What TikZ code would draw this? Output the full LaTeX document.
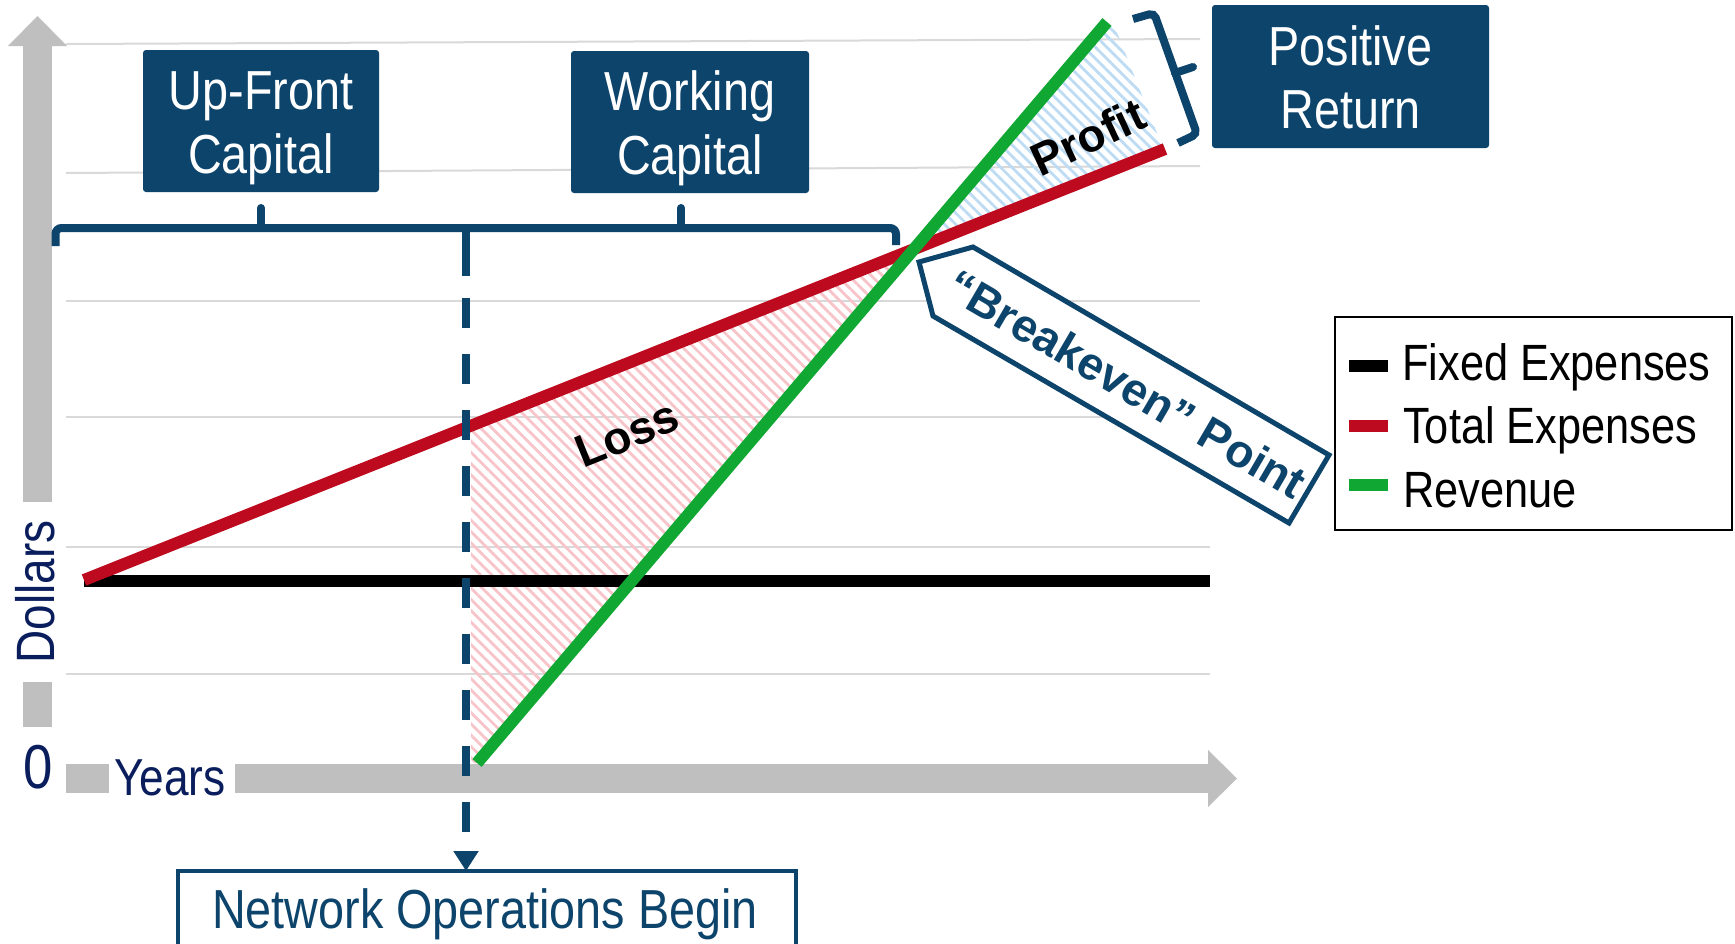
\documentclass[tikz,border=0pt]{standalone}
\usepackage{fontspec}
\setmainfont{Liberation Sans}
\newfontfamily\condfont{Liberation Sans}[FakeStretch=0.85]
\usetikzlibrary{arrows.meta,patterns.meta}
\definecolor{boxblue}{HTML}{0D446B}
\definecolor{navy}{HTML}{0A1E5E}
\definecolor{axisgray}{HTML}{BFBFBF}
\definecolor{gridgray}{HTML}{D9D9D9}
\definecolor{redline}{HTML}{BE0A1E}
\definecolor{greenline}{HTML}{10A832}
\definecolor{pinkhatch}{HTML}{F7C4CA}
\definecolor{bluehatch}{HTML}{BDDCF4}
\begin{document}
\begin{tikzpicture}[x=1pt,y=-1pt,
  bluebox/.style={fill=boxblue, rounded corners=3pt, inner sep=0pt, outer sep=0pt},
  boxtext/.style={text=white, font=\condfont\fontsize{55}{64}\selectfont, anchor=base, inner sep=0pt},
  gridline/.style={draw=gridgray, line width=2pt},
  bar/.style={fill=axisgray},
  brace/.style={draw=boxblue, line width=8pt},
  axislabel/.style={text=navy, inner sep=0pt},
  boldlabel/.style={font=\bfseries\fontsize{46}{54}\selectfont, inner sep=0pt},
  legtext/.style={font=\condfont\fontsize{51}{60}\selectfont, anchor=base west, inner sep=0pt},
  swatch/.style={line width=12pt},
  hatch/.style={pattern={Lines[angle=-45,distance=8pt,line width=2.8pt]}}
]
\useasboundingbox (0,0) rectangle (1735,943);
\clip (0,0) rectangle (1735,943);
\fill[white] (0,0) rectangle (1735,943);

% grid
\draw[gridline] (66,44) -- (1200,39);
\draw[gridline] (66,173) -- (1200,166);
\draw[gridline] (66,301) -- (1200,301);
\draw[gridline] (66,417) -- (1200,417);
\draw[gridline] (66,547) -- (1210,547);
\draw[gridline] (66,674) -- (1210,674);

% hatched regions
\fill[hatch, pattern color=pinkhatch]
  (471,426) -- (914,249) -- (477,763) -- (471,763) -- cycle;
\fill[hatch, pattern color=bluehatch]
  (914,249) -- (1108,22) -- (1114,25) -- (1163,148) -- cycle;

% axes
\fill[bar] (23,46) rectangle (52,502);
\fill[bar] (8,46) -- (37.5,16) -- (67,46) -- cycle;
\fill[bar] (23,682) rectangle (52,727);
\fill[bar] (66,764) rectangle (109,793);
\fill[bar] (235,764) rectangle (1208,793);
\fill[bar] (1208,750) -- (1237,778.5) -- (1208,807) -- cycle;

\node[axislabel, font=\condfont\fontsize{54}{60}\selectfont, rotate=90, anchor=base] (dollars) at (54,592) {Dollars};
\node[axislabel, font=\condfont\fontsize{62}{70}\selectfont, anchor=base] (zero) at (38.5,788) {0};
\node[axislabel, font=\condfont\fontsize{52}{60}\selectfont, anchor=base west] (years) at (114,795) {Years};

% data lines
\draw[swatch, black] (84,581) -- (1210,581);
\draw[swatch, redline] (84,580) -- (1165,149);
\draw[swatch, greenline] (477,763) -- (1107,22);

% boxes on top
\node[bluebox, minimum width=236pt, minimum height=142pt] (upbox) at (261,121) {};
\node[boxtext] (up1) at (261,109) {Up-Front};
\node[boxtext] (up2) at (261,173) {Capital};
\node[bluebox, minimum width=238pt, minimum height=142pt] (workbox) at (690,122) {};
\node[boxtext] (work1) at (690,110) {Working};
\node[boxtext] (work2) at (690,174) {Capital};
\node[bluebox, minimum width=277pt, minimum height=143pt] (posbox) at (1350.5,76.5) {};
\node[boxtext] (pos1) at (1350.5,65) {Positive};
\node[boxtext] (pos2) at (1350.5,128) {Return};

% brackets
\draw[brace, rounded corners=6pt] (55.5,246) -- (55.5,228) -- (896,228) -- (896,245);
\draw[brace, line cap=round] (261,228) -- (261,208);
\draw[brace, line cap=round] (681,228) -- (681,208);
\coordinate (stem) at (466,276);
\draw[brace] (466,228) -- (stem);

\draw[brace, rounded corners=5pt] (1133,19) -- (1154,13) -- (1197,134) -- (1178,143);
\draw[brace, line cap=round] (1175,73) -- (1193,67);

% network operations
\node[draw=boxblue, line width=4pt, minimum width=618pt, minimum height=120pt, anchor=north, inner sep=0pt, outer sep=0pt] (netbox) at (486.5,871) {};
\node[font=\condfont\fontsize{55}{64}\selectfont, text=boxblue, anchor=base, inner sep=0pt] (nettext) at (485,928) {Network Operations Begin};
\draw[draw=boxblue, line width=8pt, dash pattern=on 30pt off 26pt, dash phase=34pt,
  -{Triangle[width=24pt,length=20pt]}] (stem) -- (netbox.north -| stem);

% labels on chart
\node[boldlabel, rotate=22] (loss) at (627,434) {Loss};
\node[boldlabel, rotate=25] (profit) at (1088,137) {Profit};

% breakeven tag
\draw[draw=boxblue, line width=5pt, fill=white, line join=miter]
  (919,262) -- (973,247) -- (1329,455) -- (1289,523) -- (933,316) -- cycle;
\node[boldlabel, text=boxblue, rotate=-30.3] (bep) at (1127,384) {“Breakeven” Point};

% legend
\node[draw=black, line width=2pt, minimum width=397pt, minimum height=213pt, inner sep=0pt, outer sep=0pt] (legend) at (1533.5,423.5) {};
\draw[swatch, black] (1349,366) -- (1388,366);
\draw[swatch, redline] (1349,426) -- (1388,426);
\draw[swatch, greenline] (1349,485) -- (1388,485);
\node[legtext] (leg1) at (1402,380) {Fixed Expenses};
\node[legtext] (leg2) at (1403,443) {Total Expenses};
\node[legtext] (leg3) at (1403,507) {Revenue};
\end{tikzpicture}
\end{document}
